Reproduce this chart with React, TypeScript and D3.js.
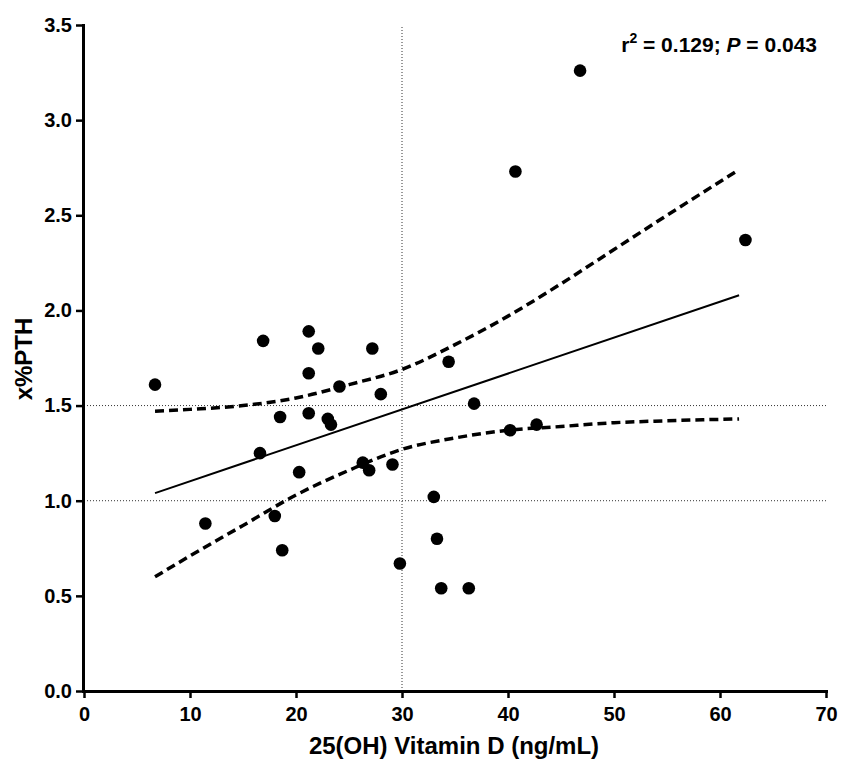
import React, { useEffect, useRef } from 'react';
import * as d3 from 'd3';

// scatter data
const vitD = [6.7, 11.45, 16.6, 16.9, 18.0, 18.5, 18.7, 20.3, 21.2, 21.2, 21.2, 22.1, 23.0, 23.3, 24.1, 26.3,
  26.9, 27.2, 28.0, 29.1, 29.8, 33.0, 33.3, 33.7, 34.4, 36.3, 36.8, 40.2, 40.7, 42.7, 46.8, 62.4];
const pth = [1.61, 0.88, 1.25, 1.84, 0.92, 1.44, 0.74, 1.15, 1.89, 1.67, 1.46, 1.80, 1.43, 1.40, 1.60, 1.20,
  1.16, 1.80, 1.56, 1.19, 0.67, 1.02, 0.80, 0.54, 1.73, 0.54, 1.51, 1.37, 2.73, 1.40, 3.26, 2.37];

// regression line and 95% band
const fitX = [6.7, 61.8];
const fitY = [1.04, 2.08];
const bandX = [6.7, 10, 15, 20, 25, 30, 35, 40, 45, 50, 55, 61.8];
const bandUpper = [1.47, 1.48, 1.50, 1.54, 1.61, 1.69, 1.82, 1.97, 2.14, 2.32, 2.50, 2.74];
const bandLower = [0.60, 0.71, 0.87, 1.03, 1.16, 1.27, 1.33, 1.37, 1.39, 1.41, 1.42, 1.43];

const xTicks = [0, 10, 20, 30, 40, 50, 60, 70];
const yTicks = [0, 0.5, 1.0, 1.5, 2.0, 2.5, 3.0, 3.5];
const refX = [30];
const refY = [1.0, 1.5];

const App = () => {
  const svgRef = useRef<SVGSVGElement>(null);
  const W = 842;
  const H = 760;

  useEffect(() => {
    const svg = d3.select(svgRef.current);
    svg.selectAll('*').remove();

    const x = d3.scaleLinear().domain([0, 70]).range([84, 826]);
    const y = d3.scaleLinear().domain([0, 3.5]).range([691, 25]);
    const font = 'Arial, "Liberation Sans", sans-serif';

    // dotted reference lines
    const ref = svg.append('g').attr('stroke', '#333').attr('stroke-width', 1).attr('stroke-dasharray', '1,2');
    refX.forEach(v => {
      ref.append('line').attr('x1', x(v)).attr('x2', x(v)).attr('y1', y(0)).attr('y2', y(3.5));
    });
    refY.forEach(v => {
      ref.append('line').attr('x1', x(0)).attr('x2', x(70)).attr('y1', y(v)).attr('y2', y(v));
    });

    // confidence band
    const band = d3.line<number>()
      .x((_, i) => x(bandX[i]))
      .curve(d3.curveMonotoneX);
    svg.append('path')
      .attr('d', band.y(d => y(d))(bandUpper))
      .attr('fill', 'none').attr('stroke', '#000').attr('stroke-width', 3.5).attr('stroke-dasharray', '9,5');
    svg.append('path')
      .attr('d', band.y(d => y(d))(bandLower))
      .attr('fill', 'none').attr('stroke', '#000').attr('stroke-width', 3.5).attr('stroke-dasharray', '9,5');

    // fit line
    svg.append('path')
      .attr('d', d3.line<number>().x((_, i) => x(fitX[i])).y(d => y(d))(fitY))
      .attr('fill', 'none').attr('stroke', '#000').attr('stroke-width', 2);

    // points
    svg.append('g').selectAll('circle')
      .data(vitD)
      .enter().append('circle')
      .attr('cx', d => x(d))
      .attr('cy', (_, i) => y(pth[i]))
      .attr('r', 6.3)
      .attr('fill', '#000');

    // axes
    const xAxis = svg.append('g')
      .attr('transform', `translate(0,${y(0)})`)
      .call(d3.axisBottom(x).tickValues(xTicks).tickFormat(d3.format('d')).tickSize(7).tickSizeOuter(0).tickPadding(9));
    const yAxis = svg.append('g')
      .attr('transform', `translate(${x(0) - 1},0)`)
      .call(d3.axisLeft(y).tickValues(yTicks).tickFormat(d3.format('.1f')).tickSize(7).tickSizeOuter(0).tickPadding(4));
    [xAxis, yAxis].forEach(a => {
      a.select('.domain').attr('stroke-width', 3).attr('stroke-linecap', 'square');
      a.selectAll('.tick line').attr('stroke-width', 2.5);
      a.selectAll('text').attr('font-family', font).attr('font-weight', 'bold').attr('font-size', 20).attr('fill', '#000');
    });

    // axis titles
    svg.append('text')
      .attr('x', 454).attr('y', 754)
      .attr('text-anchor', 'middle')
      .attr('font-family', font).attr('font-weight', 'bold').attr('font-size', 24)
      .text('25(OH) Vitamin D (ng/mL)');
    svg.append('text')
      .attr('transform', 'translate(32,359) rotate(-90)')
      .attr('text-anchor', 'middle')
      .attr('font-family', font).attr('font-weight', 'bold').attr('font-size', 24)
      .text('x%PTH');

    // stats label
    const st = svg.append('text')
      .attr('x', 817).attr('y', 52)
      .attr('text-anchor', 'end')
      .attr('font-family', font).attr('font-weight', 'bold').attr('font-size', 21);
    st.append('tspan').text('r');
    st.append('tspan').attr('font-size', 14).attr('dy', -9).text('2');
    st.append('tspan').attr('dy', 9).text(' = 0.129; ');
    st.append('tspan').attr('font-style', 'italic').text('P');
    st.append('tspan').text(' = 0.043');
  }, []);

  return (
    <svg ref={svgRef} width={W} height={H}
      style={{ position: 'absolute', left: 0, top: 0, background: '#fff' }} />
  );
};

export default App;
